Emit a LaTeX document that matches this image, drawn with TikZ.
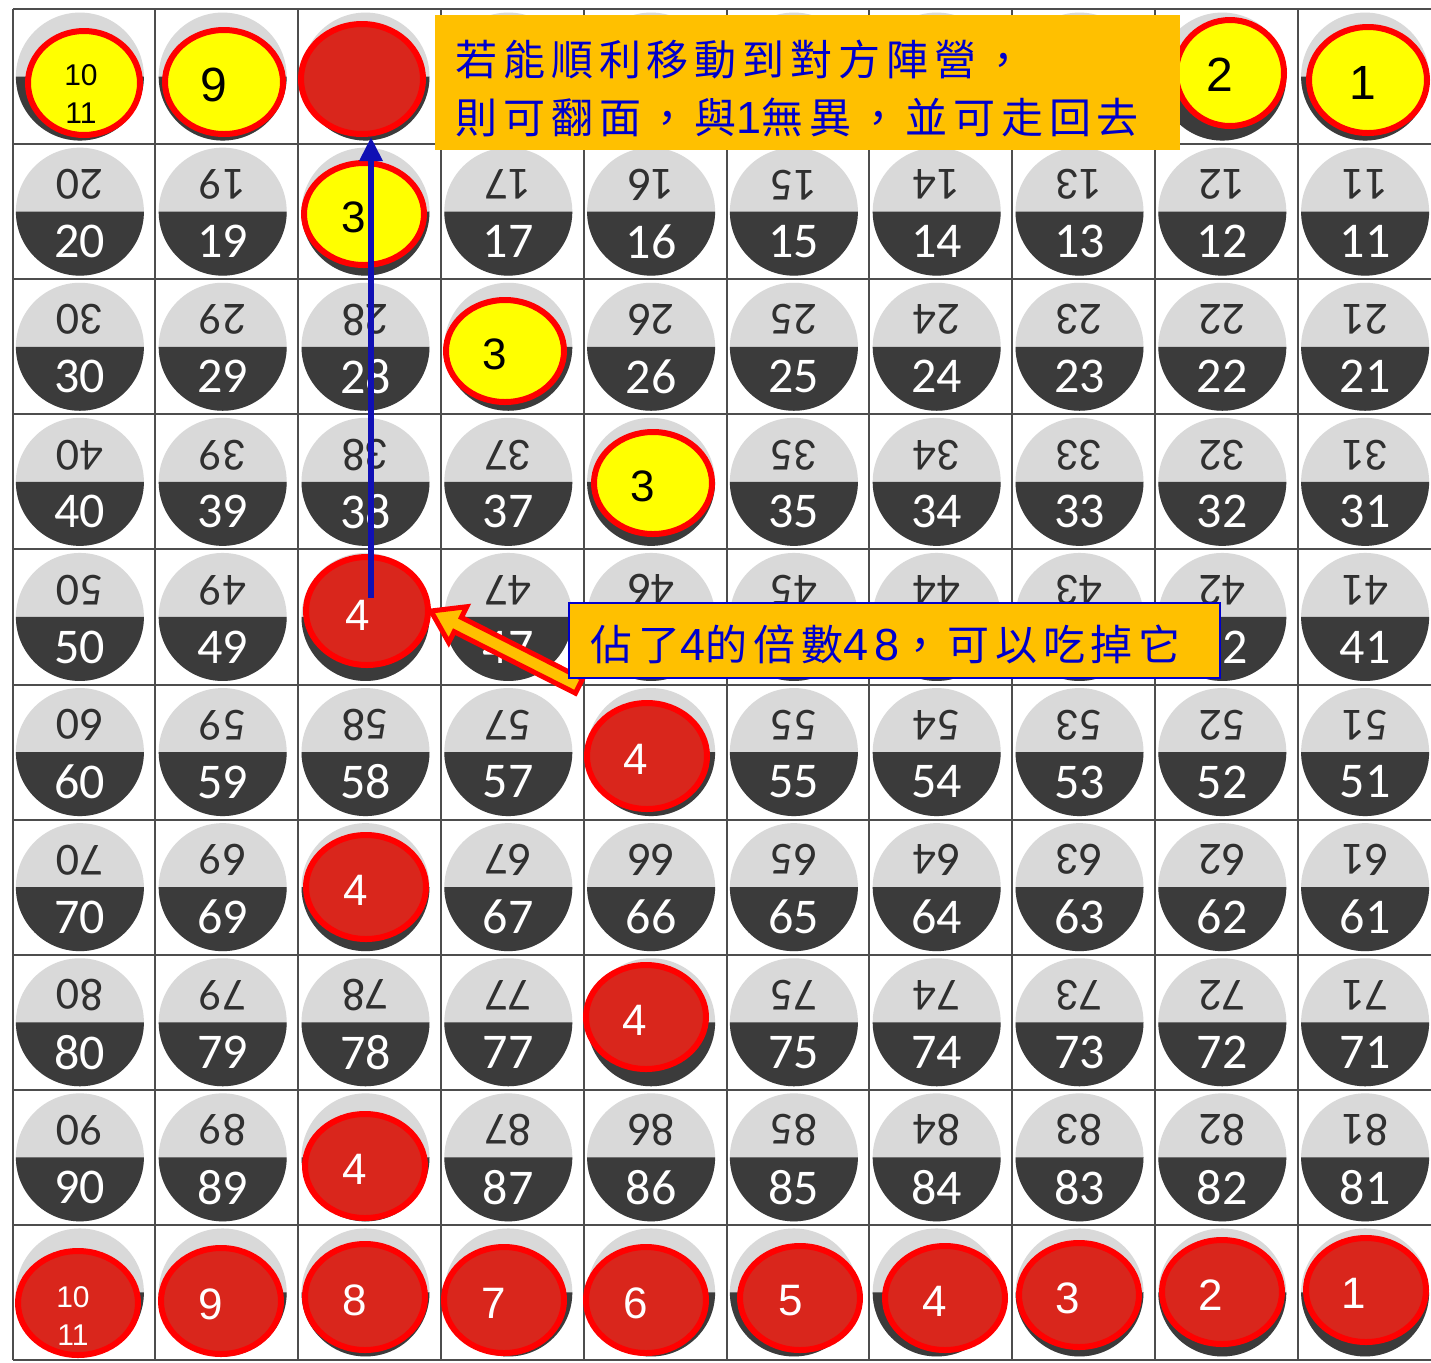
\documentclass[tikz,border=0pt]{standalone}
\usepackage{fontspec}
\setmainfont{Liberation Sans}
\newfontfamily\coinfont{Carlito}
\newfontfamily\cjkfont[LetterSpace=14]{Noto Sans CJK TC}
\newfontfamily\latdigits[LetterSpace=14]{Liberation Sans}
\usetikzlibrary{calc,arrows.meta,shapes.geometric}
\definecolor{coinlight}{HTML}{D9D9D9}
\definecolor{coindark}{HTML}{3B3B3B}
\definecolor{topnum}{HTML}{303030}
\definecolor{gridc}{HTML}{4D4D4D}
\definecolor{pred}{HTML}{D9261C}
\definecolor{pborder}{HTML}{FF0000}
\definecolor{pyellow}{HTML}{FFFF00}
\definecolor{corange}{HTML}{FFC000}
\definecolor{cblue}{HTML}{0000CC}
\definecolor{ablue}{HTML}{1010B4}
\newcommand\mkpiece[9]{%
  \node[#6, minimum width=#4pt-3pt, minimum height=#5pt-3pt] (#1) at (#2,#3) {};
  \node[#8] (#1t) at ($(#1.center)+#9$) {#7};
}
\newcommand\dg[1]{{\latdigits\fontsize{22.5}{29}\selectfont #1}}
\begin{document}
\begin{tikzpicture}[x=0.5pt,y=-0.5pt,
  gridline/.style={draw=gridc,line width=1pt},
  piece/.style={ellipse,draw=pborder,line width=3pt,inner sep=0pt},
  redp/.style={piece,fill=pred},
  yelp/.style={piece,fill=pyellow},
  pblk/.style={font=\fontsize{22}{22}\selectfont,text=black,inner sep=0pt},
  pwht/.style={pblk,text=white},
  pbig/.style={pblk,font=\fontsize{24}{24}\selectfont},
  psmall/.style={font=\fontsize{15}{19}\selectfont,align=center,inner sep=0pt,text=black},
  psmallw/.style={psmall,text=white},
  coinnum/.style={font=\coinfont\fontsize{25}{25}\selectfont,text=white,inner sep=0pt},
  coinnumtop/.style={font=\coinfont\fontsize{23}{23}\selectfont,text=topnum,inner sep=0pt,rotate=180},
  callbox/.style={fill=corange,inner sep=0pt,outer sep=0pt},
  calltext/.style={font=\cjkfont\fontsize{21}{29}\selectfont,text=cblue,inner sep=0pt,align=left},
  bluearrow/.style={draw=ablue,line width=3pt,-{Triangle[width=11pt,length=12pt]}},
  blockarrow/.style={fill=corange,draw=pborder,line width=2.5pt,line join=miter}
]
\fill[white] (0,0) rectangle (1431,1362);
\useasboundingbox (0,0) rectangle (1431,1362);

% grid
\foreach \k in {0,...,9} \draw[gridline] (12.5+142.8*\k,9) -- (12.5+142.8*\k,1360);
\foreach \j in {0,...,10} \draw[gridline] (12.5,9+135.1*\j) -- (1431,9+135.1*\j);

% coins
\foreach \r in {0,...,9}{
  \foreach \c in {0,...,9}{
    \pgfmathsetmacro\cx{12.5+142.8*(\c+0.5)-4}
    \pgfmathsetmacro\cy{9+135.1*(\r+0.5)}
    \fill[coinlight] (\cx,\cy) circle[radius=64];
    \fill[coindark] (\cx-64,\cy) arc[start angle=180,end angle=0,radius=64] -- cycle;
    \pgfmathtruncatemacro\num{10*\r+10-\c}
    \pgfmathtruncatemacro\isskip{(\r==1&&\c==2)||(\r==2&&\c==3)||(\r==3&&\c==4)||(\r>3&&iseven(\r)&&\c==2)||(\r>3&&isodd(\r)&&\c==4)||(\r==0)||(\r==9)}
    \pgfmathtruncatemacro\hidden{(\r==4&&\c>3&&\c<8)}
    \ifnum\isskip=0
      \node[coinnumtop] (t\num) at (\cx,\cy-27) {\num};
      \ifnum\hidden=0
        \node[coinnum] (b\num) at (\cx,\cy+30) {\num};
      \fi
    \fi
  }
}

% top row pieces
\mkpiece{pTa}{84}{83}{59}{55}{yelp}{10\\11}{psmall}{(-3,11)}
\mkpiece{pTb}{224}{82}{62}{55}{yelp}{9}{pbig}{(-10,3)}
\mkpiece{pTc}{362}{79}{64}{58}{redp}{}{pwht}{(0,0)}
\mkpiece{pTd}{1230}{73}{57}{56}{yelp}{2}{pbig}{(-10,2)}
\mkpiece{pTe}{1368}{80}{62}{56}{yelp}{1}{pbig}{(-5,3)}
% middle pieces
\mkpiece{p18}{364}{214}{63}{54}{yelp}{3}{pblk}{(-10,3)}
\mkpiece{p27}{505}{351}{62}{54}{yelp}{3}{pblk}{(-10,3)}
\mkpiece{p36}{653}{483}{62}{54}{yelp}{3}{pblk}{(-10,3)}
\mkpiece{p48}{367}{611}{64}{57}{redp}{4}{pwht}{(-9,4)}
\mkpiece{p56}{647}{756}{63}{56}{redp}{4}{pwht}{(-11,3)}
\mkpiece{p68}{366}{887}{63}{55}{redp}{4}{pwht}{(-10,3)}
\mkpiece{p76}{646}{1017}{63}{55}{redp}{4}{pwht}{(-11,3)}
\mkpiece{p88}{365}{1166}{63}{55}{redp}{4}{pwht}{(-10,3)}
% bottom row pieces
\mkpiece{pBa}{78}{1303}{63}{55}{redp}{10\\11}{psmallw}{(-5,13)}
\mkpiece{pBb}{221}{1301}{63}{56}{redp}{9}{pwht}{(-10,3)}
\mkpiece{pBc}{365}{1297}{63}{56}{redp}{8}{pwht}{(-10,3)}
\mkpiece{pBd}{504}{1300}{63}{56}{redp}{7}{pwht}{(-10,3)}
\mkpiece{pBe}{646}{1300}{63}{56}{redp}{6}{pwht}{(-10,3)}
\mkpiece{pBf}{800}{1298}{63}{55}{redp}{5}{pwht}{(-9,3)}
\mkpiece{pBg}{945}{1298}{63}{55}{redp}{4}{pwht}{(-10,3)}
\mkpiece{pBh}{1079}{1295}{63}{55}{redp}{3}{pwht}{(-11,3)}
\mkpiece{pBi}{1222}{1292}{63}{55}{redp}{2}{pwht}{(-11,3)}
\mkpiece{pBj}{1366}{1290}{63}{55}{redp}{1}{pwht}{(-12,3)}

% block arrow from callout 2 to piece 4
\coordinate (btail) at (579,686);
\coordinate (btip) at (p48.east);
\coordinate (bbase) at ($(btip)!15pt!(btail)$);
\draw[blockarrow] ($(btail)!4pt!90:(btip)$) -- ($(bbase)!4pt!90:(btip)$)
  -- ($(bbase)!10pt!90:(btip)$) -- (btip) -- ($(bbase)!10pt!-90:(btip)$)
  -- ($(bbase)!4pt!-90:(btip)$) -- ($(btail)!4pt!-90:(btip)$) -- cycle;

% callout 2
\node[callbox, draw=cblue, line width=1pt, minimum width=325.5pt, minimum height=37.5pt] (call2) at (894.5,640.5) {};
\node[calltext, anchor=west] (call2t) at (590,644) {佔了\dg{4}的倍數\dg{48}，可以吃掉它};

% callout 1
\node[callbox, minimum width=372.5pt, minimum height=67.5pt, anchor=north west] (call1) at (435,15) {};
\node[calltext, anchor=west] (call1t) at (455,88) {若能順利移動到對方陣營，\\則可翻面，與\dg{1}無異，並可走回去};

% blue arrow
\coordinate (bluestart) at (371,598);
\draw[bluearrow] (bluestart) -- (bluestart |- pTc.south);
\end{tikzpicture}
\end{document}
